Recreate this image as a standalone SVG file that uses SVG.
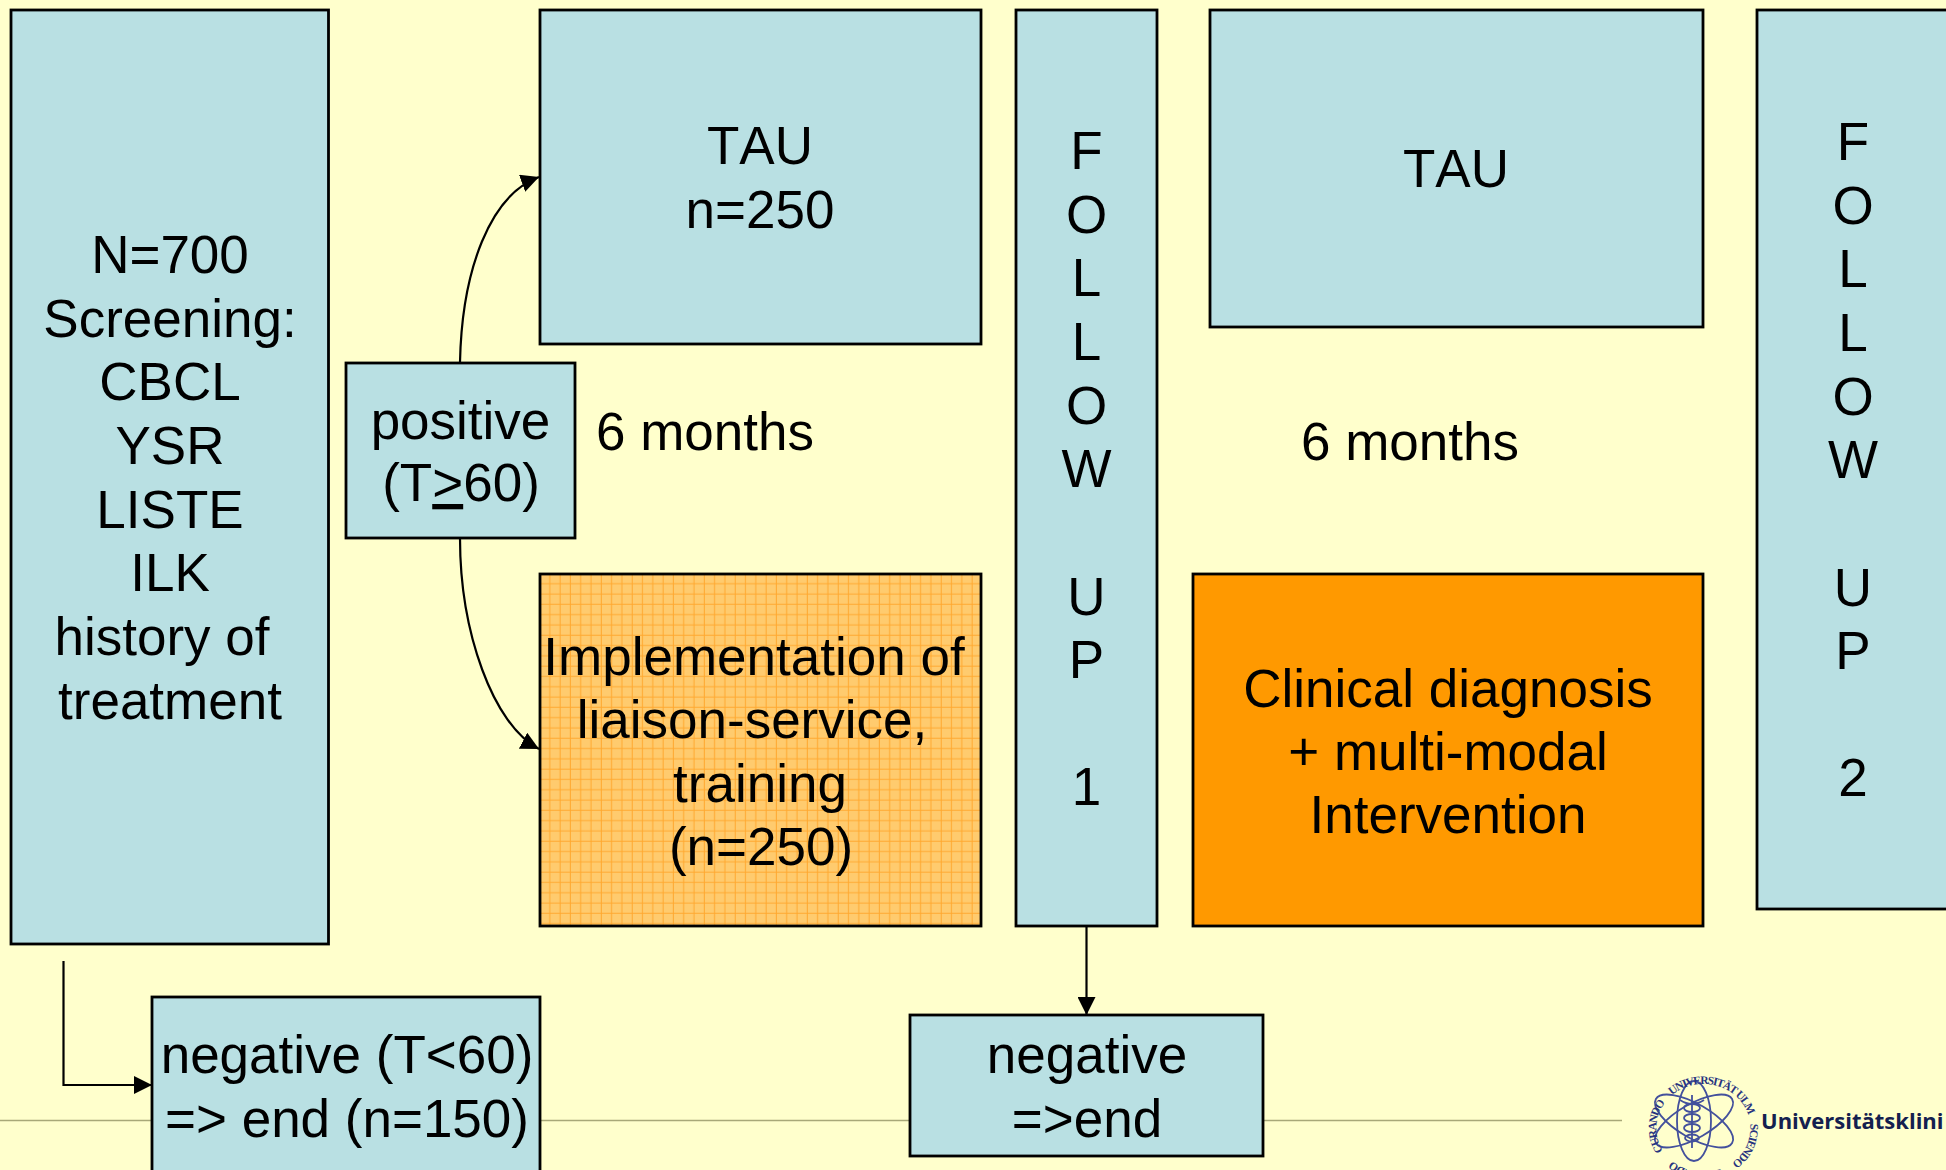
<svg xmlns="http://www.w3.org/2000/svg" width="1946" height="1170" viewBox="0 0 1946 1170">
<style>
.box{fill:#b9e0e3;stroke:#000;stroke-width:2.8}
.t{font-family:"Liberation Sans",Arial,sans-serif;font-size:53px;fill:#000;text-anchor:middle}
.nk{font-kerning:none}
.c{fill:none;stroke:#000;stroke-width:2.2}
.s{fill:none;stroke:#43509c;stroke-width:1.8}
.st{font-family:"Liberation Serif",serif;font-size:11.5px;font-weight:bold;fill:#27337f;letter-spacing:-1.2px}
.r{fill:none;stroke:#a8a878;stroke-width:1.5}
</style>
<defs>
<marker id="ah" markerUnits="userSpaceOnUse" markerWidth="18" markerHeight="18" refX="18" refY="9" orient="auto"><path d="M0 0L18 9L0 18Z" fill="#000"/></marker>
<pattern id="grid" patternUnits="userSpaceOnUse" x="544.800" y="578.800" width="10.300" height="10.300"><rect width="10.300" height="10.300" fill="#ffcb6e"/><path d="M0 5H10.300M5 0V10.300" stroke="#ffa82e" stroke-width="1"/></pattern>
<path id="ring" d="M1669 1158A47 44 0 1 1 1669.100 1158.100"/>
</defs>
<rect width="1946" height="1170" fill="#ffffcc"/>
<path class="r" d="M0 1120.500H152M540 1120.500H910M1263 1120.500H1622"/>
<g id="connectors">
<path class="c" d="M460 362C462 270 490 195 539 177" marker-end="url(#ah)"/>
<path class="c" d="M460 538C460 632 493 725 539 749" marker-end="url(#ah)"/>
<path class="c" d="M63.500 961V1085H152" marker-end="url(#ah)"/>
<path class="c" d="M1086.500 926V1015" marker-end="url(#ah)"/>
</g>
<g id="n-screening"><rect class="box" x="11" y="10" width="317.500" height="934"/>
<text class="t"><tspan x="170" y="273">N=700</tspan><tspan x="170" y="337">Screening:</tspan><tspan x="170" y="400">CBCL</tspan><tspan x="170" y="464">YSR</tspan><tspan x="170" y="528">LISTE</tspan><tspan x="170" y="591">ILK</tspan><tspan x="162" y="655">history of</tspan><tspan x="170" y="719">treatment</tspan></text></g>
<g id="n-tau1"><rect class="box" x="540" y="10" width="441" height="334"/>
<text class="t"><tspan class="nk" x="760" y="164">TAU</tspan><tspan x="760" y="228">n=250</tspan></text></g>
<g id="n-follow1"><rect class="box" x="1016" y="10" width="141" height="916"/>
<text class="t"><tspan x="1086.500" y="169">F</tspan><tspan x="1086.500" y="233">O</tspan><tspan x="1086.500" y="296">L</tspan><tspan x="1086.500" y="360">L</tspan><tspan x="1086.500" y="424">O</tspan><tspan x="1086.500" y="487">W</tspan><tspan x="1086.500" y="615">U</tspan><tspan x="1086.500" y="678">P</tspan><tspan x="1086.500" y="805">1</tspan></text></g>
<g id="n-tau2"><rect class="box" x="1210" y="10" width="493" height="317"/>
<text class="t nk" x="1456" y="187">TAU</text></g>
<g id="n-follow2"><rect class="box" x="1757" y="10" width="200" height="899"/>
<text class="t"><tspan x="1853" y="160">F</tspan><tspan x="1853" y="224">O</tspan><tspan x="1853" y="287">L</tspan><tspan x="1853" y="351">L</tspan><tspan x="1853" y="415">O</tspan><tspan x="1853" y="478">W</tspan><tspan x="1853" y="606">U</tspan><tspan x="1853" y="669">P</tspan><tspan x="1853" y="796">2</tspan></text></g>
<g id="n-positive"><rect class="box" x="346" y="363" width="229" height="175"/>
<text class="t"><tspan x="460.500" y="439">positive</tspan><tspan x="461" y="501">(T<tspan text-decoration="underline">&gt;</tspan>60)</tspan></text></g>
<text class="t" x="705" y="450">6 months</text>
<text class="t" x="1410" y="460">6 months</text>
<g id="n-impl"><rect x="540" y="574" width="441" height="352" fill="url(#grid)" stroke="#000" stroke-width="2.800"/>
<text class="t"><tspan x="754" y="675">Implementation of</tspan><tspan x="752" y="738">liaison-service,</tspan><tspan x="760" y="802">training</tspan><tspan x="761" y="865">(n=250)</tspan></text></g>
<g id="n-clinical"><rect x="1193" y="574" width="510" height="352" fill="#ff9900" stroke="#000" stroke-width="2.800"/>
<text class="t"><tspan x="1448" y="707">Clinical diagnosis</tspan><tspan x="1448" y="770">+ multi-modal</tspan><tspan x="1448" y="833">Intervention</tspan></text></g>
<g id="n-neg1"><rect class="box" x="152" y="997" width="388" height="190"/>
<text class="t"><tspan x="347" y="1073">negative (T&lt;60)</tspan><tspan x="347" y="1137">=&gt; end (n=150)</tspan></text></g>
<g id="n-neg2"><rect class="box" x="910" y="1015" width="353" height="141"/>
<text class="t"><tspan x="1087" y="1073">negative</tspan><tspan x="1087" y="1137">=&gt;end</tspan></text></g>
<g id="logo">
<g class="s"><ellipse cx="1694" cy="1121" rx="44" ry="17" transform="rotate(30 1694 1121)"/><ellipse cx="1694" cy="1121" rx="44" ry="17" transform="rotate(-30 1694 1121)"/><ellipse cx="1694" cy="1121" rx="40" ry="17" transform="rotate(90 1694 1121)"/><ellipse cx="1692" cy="1108" rx="8" ry="4"/><ellipse cx="1692" cy="1118" rx="8" ry="4"/><ellipse cx="1692" cy="1128" rx="8" ry="4"/><ellipse cx="1692" cy="1138" rx="7" ry="3.500"/><path d="M1692 1095V1148M1680 1100Q1692 1108 1704 1100"/></g>
<text class="st"><textPath href="#ring" startOffset="3.3%">CURANDO</textPath></text>
<text class="st"><textPath href="#ring" startOffset="24.7%">UNIVERSITÄT ULM</textPath></text>
<text class="st"><textPath href="#ring" startOffset="60.3%">SCIENDO</textPath></text>
<text class="st"><textPath href="#ring" startOffset="80.5%">DOCENDO</textPath></text>
<text x="1761" y="1129" font-family="Open Sans,Noto Sans,sans-serif" font-size="22" font-weight="bold" fill="#14204f">Universitätsklini</text>
</g>
</svg>
